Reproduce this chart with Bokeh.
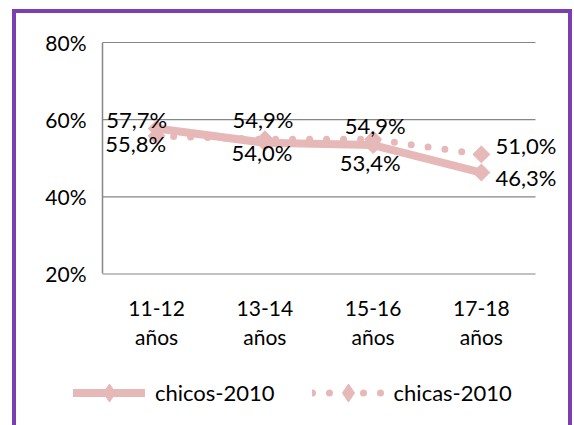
from bokeh.plotting import figure
from bokeh.models import FixedTicker, Legend, LegendItem, Range1d, LinearAxis
from bokeh.core.properties import value
from bokeh.embed import file_html
from bokeh.resources import INLINE

# ---- data ----
categories = ["11-12\naños", "13-14\naños", "15-16\naños", "17-18\naños"]
chicos = [57.7, 54.0, 53.4, 46.3]
chicas = [55.8, 54.9, 54.9, 51.0]
y_ticks = [20, 40, 60, 80]
y_tick_labels = ["20%", "40%", "60%", "80%"]
series_names = ["chicos-2010", "chicas-2010"]

# ---- label placement (styling) ----
chicos_dx = [-20, -3, -3, 14]
chicos_dy = [-9, 10, 17, 5]
chicos_align = ["center", "center", "center", "left"]
chicas_dx = [-21, -2, 2, 14]
chicas_dy = [8, -20, -14, -9]
chicas_align = ["center", "center", "center", "left"]

# ---- layout / style constants ----
W, H = 574, 425
PX_LEFT = 102        # pixel of category-axis start
PX_PER_CAT = 108.25  # pixels per category slot
PX_TOP_VAL = 42      # pixel of the top tick value
PX_PER_PCT = 3.858   # pixels per percentage point

PINK = "#E6B9B8"
GRAY = "#868686"
PURPLE = "#7B3FB2"
FONT = "Lato"
FS = "21px"
FS_LBL = "22px"

n = len(categories)
x_pos = [i + 0.5 for i in range(n)]
top = y_ticks[-1]


def fmt(v):
    return f"{v:.1f}%".replace(".", ",")


x_range = Range1d(-PX_LEFT / PX_PER_CAT, (W - PX_LEFT) / PX_PER_CAT)
y_range = Range1d(top - (H - PX_TOP_VAL) / PX_PER_PCT, top + PX_TOP_VAL / PX_PER_PCT)

p = figure(width=W, height=H, x_range=x_range, y_range=y_range,
           output_backend="svg", toolbar_location=None,
           x_axis_location=None, y_axis_location=None,
           min_border=0, min_border_left=0, min_border_right=0,
           min_border_top=0, min_border_bottom=0)
p.outline_line_color = None
p.background_fill_color = None
p.border_fill_color = None
p.xgrid.visible = False
p.ygrid.visible = False
p.styles = {
    "background-image": ("linear-gradient(%s,%s), linear-gradient(%s,%s), linear-gradient(%s,%s)"
                         % (PURPLE, PURPLE, PURPLE, PURPLE, PURPLE, PURPLE)),
    "background-size": "4px 100%, 560px 4px, 4px 100%",
    "background-position": "12px 9px, 12px 9px, 568px 9px",
    "background-repeat": "no-repeat",
}

# axes drawn at fixed locations inside the frame
xaxis = LinearAxis(fixed_location=y_ticks[0], ticker=FixedTicker(ticks=x_pos),
                   major_label_overrides=dict(zip(x_pos, categories)))
xaxis.axis_line_color = None
xaxis.major_tick_line_color = None
xaxis.minor_tick_line_color = None
xaxis.major_label_text_font = FONT
xaxis.major_label_text_font_size = FS
xaxis.major_label_text_color = "black"
xaxis.major_label_text_line_height = 1.15
xaxis.major_label_standoff = 15
p.add_layout(xaxis, "below")

yaxis = LinearAxis(fixed_location=0, ticker=FixedTicker(ticks=y_ticks),
                   major_label_overrides=dict(zip(y_ticks, y_tick_labels)),
                   bounds=(y_ticks[0], y_ticks[-1]))
yaxis.axis_line_color = GRAY
yaxis.axis_line_width = 1.5
yaxis.major_tick_line_color = None
yaxis.minor_tick_line_color = None
yaxis.major_label_text_font = FONT
yaxis.major_label_text_font_size = FS
yaxis.major_label_text_color = "black"
yaxis.major_label_standoff = 10
p.add_layout(yaxis, "left")

# horizontal gridlines across the category area
p.segment(x0=[0] * len(y_ticks), x1=[n] * len(y_ticks), y0=y_ticks, y1=y_ticks,
          line_color=GRAY, line_width=1.2)

# series
r1 = p.line(x_pos, chicos, line_width=8, color=PINK, line_cap="round", line_join="round")
lg1 = p.scatter(x_pos, chicos, marker="diamond", size=10, color=PINK)
m1 = p.scatter(x_pos, chicos, marker="square", angle=0.785398, size=12, color=PINK)
r2 = p.line(x_pos, chicas, line_width=7, color=PINK, line_dash="0 17", line_cap="round")
lg2 = p.scatter(x_pos, chicas, marker="diamond", size=10, color=PINK)
m2 = p.scatter(x_pos, chicas, marker="square", angle=0.785398, size=12, color=PINK)

# data labels
p.text(x_pos, chicos, text=[fmt(v) for v in chicos], x_offset=chicos_dx, y_offset=chicos_dy,
       text_align=chicos_align, text_baseline="middle", text_font=value(FONT),
       text_font_size=FS_LBL, text_color="black")
p.text(x_pos, chicas, text=[fmt(v) for v in chicas], x_offset=chicas_dx, y_offset=chicas_dy,
       text_align=chicas_align, text_baseline="middle", text_font=value(FONT),
       text_font_size=FS_LBL, text_color="black")

legend = Legend(items=[LegendItem(label=series_names[0], renderers=[r1, lg1]),
                       LegendItem(label=series_names[1], renderers=[r2, lg2])],
                orientation="horizontal", location=(73, 10),
                glyph_width=72, glyph_height=45, label_height=22, label_standoff=10,
                spacing=37, padding=0, margin=0, border_line_color=None,
                background_fill_alpha=0,
                label_text_font=FONT, label_text_font_size=FS_LBL, label_text_color="black")
p.add_layout(legend)

open("out.html", "w").write(file_html(p, INLINE))
